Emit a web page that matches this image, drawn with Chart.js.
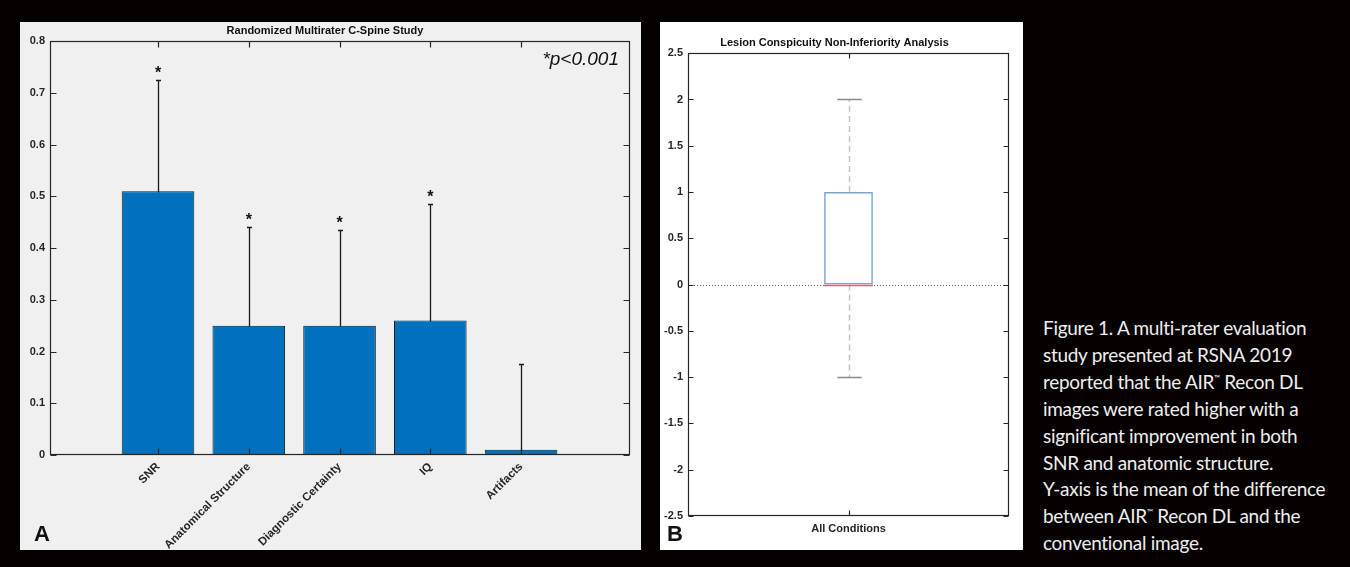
<!DOCTYPE html>
<html>
<head>
<meta charset="utf-8">
<script src="https://cdn.jsdelivr.net/npm/chart.js@4.4.1/dist/chart.umd.min.js"></script>
<style>
html, body { margin: 0; padding: 0; background: #050101; width: 1350px; height: 567px; overflow: hidden; }
#panelA { position: absolute; left: 20px; top: 22px; width: 621px; height: 528px; background: #f0f0f0; }
#panelB { position: absolute; left: 660px; top: 22px; width: 363px; height: 528px; background: #ffffff; }
canvas { display: block; }
.letter { position: absolute; font: bold 22px "Liberation Sans", Arial, sans-serif; color: #111; }
#caption { position: absolute; left: 1043px; top: 315px; color: #eeeeee; font: 19px Lato, "Noto Sans", sans-serif;
           line-height: 26.9px; letter-spacing: -0.3px; white-space: nowrap; }
.tm { font-size: 8px; line-height: 0; position: relative; top: -8px; }
</style>
</head>
<body>
<div id="panelA"><canvas id="chartA" width="621" height="528"></canvas></div>
<div id="panelB"><canvas id="chartB" width="363" height="528"></canvas></div>
<div class="letter" style="left:34px;top:521px;">A</div>
<div class="letter" style="left:667px;top:521px;">B</div>
<div id="caption">
Figure 1. A multi-rater evaluation<br>
study presented at RSNA 2019<br>
reported that the AIR<span class="tm">™</span> Recon DL<br>
images were rated higher with a<br>
significant improvement in both<br>
SNR and anatomic structure.<br>
Y-axis is the mean of the difference<br>
between AIR<span class="tm">™</span> Recon DL and the<br>
conventional image.
</div>
<script>
// ----- panel A data -----
const catsA = ['SNR', 'Anatomical Structure', 'Diagnostic Certainty', 'IQ', 'Artifacts'];
const meansA = [0.51, 0.25, 0.25, 0.26, 0.01];
const errA = [0.215, 0.19, 0.185, 0.225, 0.165];
const signifA = [true, true, true, true, false];
const yTicksA = [0, 0.1, 0.2, 0.3, 0.4, 0.5, 0.6, 0.7, 0.8];

// ----- panel B data -----
const catsB = ['All Conditions'];
const boxMinB = [-1];
const boxQ1B = [0];
const boxMedB = [0];
const boxQ3B = [1];
const boxMaxB = [2];
const yTicksB = [-2.5, -2, -1.5, -1, -0.5, 0, 0.5, 1, 1.5, 2, 2.5];

const FONT = '"Liberation Sans", Arial, Helvetica, sans-serif';
const AXIS = '#262626';

// matlab style box with inward ticks on all sides
const matlabAxes = {
    id: 'matlabAxes',
    afterDraw(chart, args, opts) {
        const { ctx, chartArea: a, scales: { x, y } } = chart;
        const L = Math.round(a.left) + 0.5, R = Math.round(a.right) - 0.5;
        const T = Math.round(a.top) + 0.5, B = Math.round(a.bottom) - 0.5;
        const len = opts.tick || 5;
        ctx.save();
        ctx.strokeStyle = AXIS;
        ctx.lineWidth = 1.2;
        ctx.strokeRect(L, T, R - L, B - T);
        ctx.beginPath();
        y.ticks.forEach((t) => {
            const py = Math.round(y.getPixelForValue(t.value)) + 0.5;
            ctx.moveTo(L, py); ctx.lineTo(L + len, py);
            ctx.moveTo(R, py); ctx.lineTo(R - len, py);
        });
        x.ticks.forEach((t) => {
            const px = Math.round(x.getPixelForValue(t.value)) + 0.5;
            ctx.moveTo(px, B); ctx.lineTo(px, B - len);
            ctx.moveTo(px, T); ctx.lineTo(px, T + len);
        });
        ctx.stroke();
        ctx.restore();
    }
};

const errorBars = {
    id: 'errorBars',
    beforeDatasetsDraw(chart) {
        const { ctx, scales: { x, y } } = chart;
        ctx.save();
        ctx.strokeStyle = '#1a1a1a';
        ctx.lineWidth = 1.3;
        meansA.forEach((m, i) => {
            const px = Math.round(x.getPixelForValue(i + 1)) + 0.5;
            const top = Math.round(y.getPixelForValue(m + errA[i])) + 0.5;
            const bot = y.getPixelForValue(Math.max(0, m - errA[i]));
            ctx.beginPath();
            ctx.moveTo(px, bot); ctx.lineTo(px, top);
            ctx.moveTo(px - 2.5, top); ctx.lineTo(px + 2.5, top);
            ctx.stroke();
        });
        ctx.restore();
    },
    afterDatasetsDraw(chart) {
        const { ctx, chartArea: a, scales: { x, y } } = chart;
        ctx.save();
        ctx.fillStyle = '#111';
        ctx.font = 'bold 16px ' + FONT;
        ctx.textAlign = 'center';
        ctx.textBaseline = 'alphabetic';
        meansA.forEach((m, i) => {
            if (!signifA[i]) return;
            const px = x.getPixelForValue(i + 1);
            const top = y.getPixelForValue(m + errA[i]);
            ctx.fillText('*', px, top - 2);
        });
        ctx.font = 'italic 19px ' + FONT;
        ctx.textAlign = 'right';
        ctx.fillText('*p<0.001', a.right - 11, a.top + 24);
        ctx.restore();
    }
};

const boxParts = {
    id: 'boxParts',
    beforeDatasetsDraw(chart) {
        const { ctx, chartArea: a, scales: { y } } = chart;
        const py = Math.round(y.getPixelForValue(0)) + 0.5;
        ctx.save();
        ctx.strokeStyle = '#6a6a6a';
        ctx.lineWidth = 1;
        ctx.setLineDash([1, 2]);
        ctx.beginPath();
        ctx.moveTo(a.left, py); ctx.lineTo(a.right, py);
        ctx.stroke();
        ctx.restore();
    },
    afterDatasetsDraw(chart) {
        const { ctx, scales: { y } } = chart;
        const bars = chart.getDatasetMeta(0).data;
        ctx.save();
        bars.forEach((bar, i) => {
            const cx = Math.round(bar.x) + 0.5;
            const half = bar.width / 2;
            // whiskers
            ctx.strokeStyle = '#c2c2c2';
            ctx.lineWidth = 1.5;
            ctx.setLineDash([6, 4]);
            ctx.beginPath();
            ctx.moveTo(cx, y.getPixelForValue(boxQ3B[i])); ctx.lineTo(cx, y.getPixelForValue(boxMaxB[i]));
            ctx.moveTo(cx, y.getPixelForValue(boxQ1B[i])); ctx.lineTo(cx, y.getPixelForValue(boxMinB[i]));
            ctx.stroke();
            // caps
            ctx.setLineDash([]);
            ctx.strokeStyle = '#8a8a8a';
            ctx.beginPath();
            [boxMaxB[i], boxMinB[i]].forEach((v) => {
                const py = Math.round(y.getPixelForValue(v)) + 0.5;
                ctx.moveTo(cx - half / 2, py); ctx.lineTo(cx + half / 2, py);
            });
            ctx.stroke();
            // median
            ctx.strokeStyle = '#d8636a';
            ctx.lineWidth = 1.5;
            const pm = Math.round(y.getPixelForValue(boxMedB[i])) + 0.5;
            ctx.beginPath();
            ctx.moveTo(bar.x - half, pm); ctx.lineTo(bar.x + half, pm);
            ctx.stroke();
        });
        ctx.restore();
    }
};

const tickFont = { family: FONT, size: 11, weight: 'bold' };
const noGrid = { display: false, drawTicks: false };

new Chart(document.getElementById('chartA'), {
    type: 'bar',
    data: {
        datasets: [{
            data: meansA.map((v, i) => ({ x: i + 1, y: v })),
            backgroundColor: '#0072bd',
            borderColor: '#1c1c1c',
            borderWidth: 1,
            borderSkipped: false,
            categoryPercentage: 1,
            barPercentage: 0.8
        }]
    },
    options: {
        responsive: false,
        animation: false,
        layout: { padding: { left: 0, right: 11, top: 0, bottom: 0 } },
        scales: {
            x: {
                type: 'linear', offset: false, min: -0.19, max: 6.2,
                afterBuildTicks: (s) => { s.ticks = catsA.map((c, i) => ({ value: i + 1 })); },
                afterFit: (s) => { s.height = 95; },
                grid: noGrid,
                border: { display: false },
                ticks: {
                    autoSkip: false, minRotation: 45, maxRotation: 45, padding: 5,
                    color: AXIS, font: { family: FONT, size: 11.5, weight: 'bold' },
                    callback: (v, i) => catsA[i]
                }
            },
            y: {
                min: 0, max: 0.8,
                afterBuildTicks: (s) => { s.ticks = yTicksA.map((v) => ({ value: v })); },
                afterFit: (s) => { s.width = 30; },
                grid: noGrid,
                border: { display: false },
                ticks: { padding: 5, color: AXIS, font: tickFont, callback: (v) => String(v) }
            }
        },
        plugins: {
            legend: { display: false },
            tooltip: { enabled: false },
            title: {
                display: true, text: 'Randomized Multirater C-Spine Study',
                color: '#111', font: { family: FONT, size: 11, weight: 'bold' },
                padding: { top: 2, bottom: 4 }
            },
            matlabAxes: { tick: 6 }
        }
    },
    plugins: [errorBars, matlabAxes]
});

new Chart(document.getElementById('chartB'), {
    type: 'bar',
    data: {
        datasets: [{
            data: boxQ1B.map((q, i) => ({ x: i + 1, y: [q, boxQ3B[i]] })),
            backgroundColor: 'rgba(0,0,0,0)',
            borderColor: '#78a4da',
            borderWidth: 1.5,
            borderSkipped: false,
            categoryPercentage: 1,
            barPercentage: 0.152
        }]
    },
    options: {
        responsive: false,
        animation: false,
        layout: { padding: { left: 0, right: 14, top: 0, bottom: 0 } },
        scales: {
            x: {
                type: 'linear', offset: false, min: 0.5, max: 1.5,
                afterBuildTicks: (s) => { s.ticks = catsB.map((c, i) => ({ value: i + 1 })); },
                afterFit: (s) => { s.height = 34; },
                grid: noGrid,
                border: { display: false },
                ticks: { autoSkip: false, maxRotation: 0, padding: 6, color: AXIS, font: tickFont,
                         callback: (v, i) => catsB[i] }
            },
            y: {
                min: -2.5, max: 2.5,
                afterBuildTicks: (s) => { s.ticks = yTicksB.map((v) => ({ value: v })); },
                afterFit: (s) => { s.width = 28; },
                grid: noGrid,
                border: { display: false },
                ticks: { padding: 5, color: AXIS, font: tickFont, callback: (v) => String(v) }
            }
        },
        plugins: {
            legend: { display: false },
            tooltip: { enabled: false },
            title: {
                display: true, text: 'Lesion Conspicuity Non-Inferiority Analysis',
                color: '#111', font: { family: FONT, size: 11, weight: 'bold' },
                padding: { top: 14, bottom: 4 }
            },
            matlabAxes: { tick: 5 }
        }
    },
    plugins: [boxParts, matlabAxes]
});
</script>
</body>
</html>
